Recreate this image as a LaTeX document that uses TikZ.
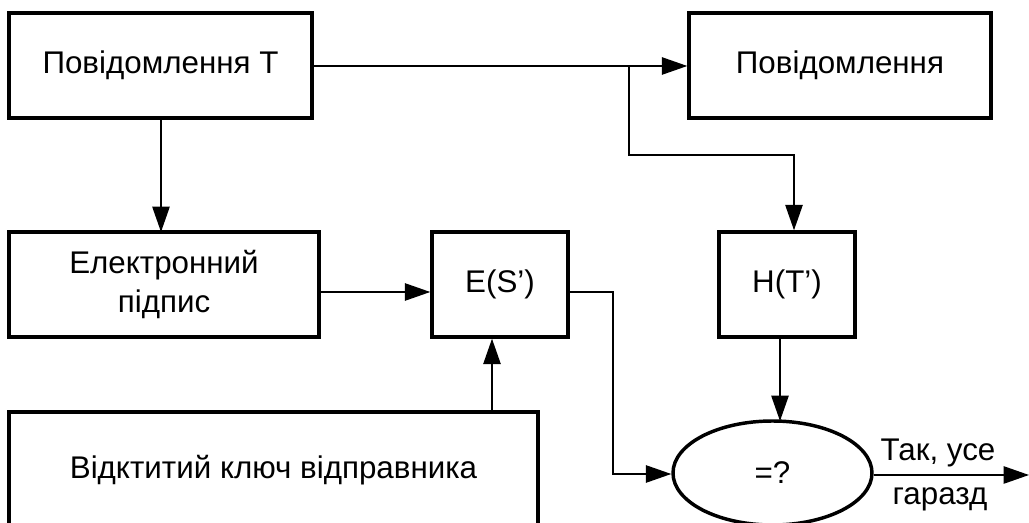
\documentclass[tikz,border=0pt]{standalone}
\usepackage{fontspec}
\setmainfont{Liberation Sans}
\usetikzlibrary{arrows.meta,shapes.geometric}

\tikzset{
  block/.style={draw, line width=2.6pt, rectangle, inner sep=0pt, align=center,
                font=\fontsize{23.5}{29.5}\selectfont},
  decision/.style={draw, line width=2.6pt, ellipse, inner sep=0pt,
                   minimum width=149.25pt, minimum height=78pt,
                   font=\fontsize{23.5}{29.5}\selectfont},
  link/.style={line width=1.1pt, -{Triangle[length=19pt, width=13pt]}},
  lbl/.style={inner sep=0pt, font=\fontsize{23.5}{29.5}\selectfont}
}

\begin{document}
\begin{tikzpicture}[x=0.75pt, y=-0.75pt]
  \useasboundingbox (0,0) rectangle (1029,523);

  % blocks
  \node[block, minimum width=227.25pt, minimum height=78.75pt] (msgT) at (160.5,65.5) {Повідомлення Т};
  \node[block, minimum width=226.5pt, minimum height=78.75pt] (msg) at (840,65.5) {Повідомлення};
  \node[block, minimum width=232.5pt, minimum height=78.75pt] (sig) at (164,284.5) {Електронний\\підпис};
  \node[block, minimum width=102pt, minimum height=78.75pt] (es) at (500,284.5) {E(S’)};
  \node[block, minimum width=102pt, minimum height=78.75pt] (ht) at (787,284.5) {H(T’)};
  \node[block, minimum width=396.75pt, minimum height=87pt] (key) at (273.5,470) {Відктитий ключ відправника};
  \node[decision] (cmp) at (772.5,473) {=?};

  % auxiliary points of the routed lines
  \coordinate (split) at (629,66);
  \coordinate (turn) at (794,155);
  \coordinate (sigout) at (319,292);
  \coordinate (esout) at (568,292);
  \coordinate (drop) at (613,474);
  \coordinate (keyout) at (492,412);
  \coordinate (htout) at (780,337);
  \coordinate (fin) at (1029,475);

  % connectors
  \draw[link] (msgT.east |- split) -- (msg.west |- split);
  \draw[link] (split) |- (turn) -- (turn |- ht.north);
  \draw[link] (161,118) -- (161,232);
  \draw[link] (sigout) -- (es.west |- sigout);
  \draw[link] (keyout) -- (keyout |- es.south);
  \draw[link] (esout) -| (drop) -- (cmp.west |- drop);
  \draw[link] (htout) -- (780,421);
  \draw[link] (cmp.east |- fin) -- (fin);

  % output labels
  \node[lbl] (yes1) at (938,453) {Так, усе};
  \node[lbl] (yes2) at (940,499) {гаразд};
\end{tikzpicture}
\end{document}
